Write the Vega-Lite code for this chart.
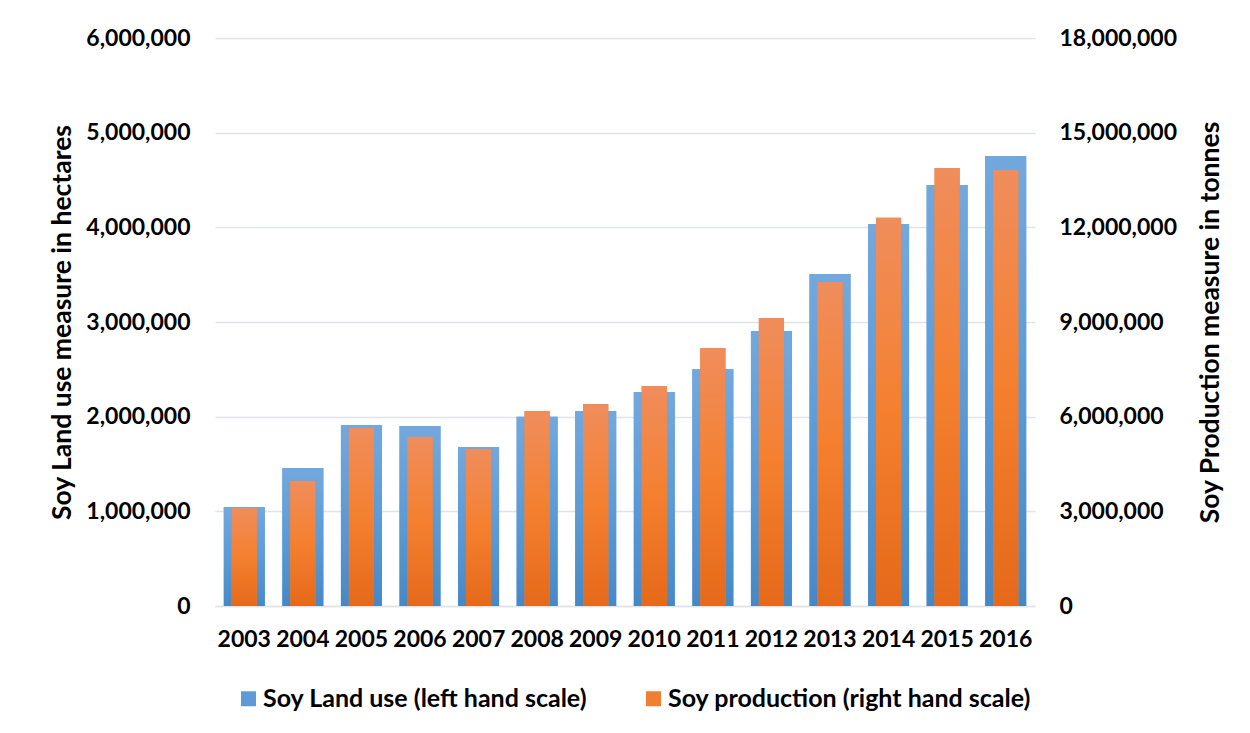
{
  "$schema": "https://vega.github.io/schema/vega-lite/v6.json",
  "width": 820,
  "height": 568,
  "autosize": "none",
  "padding": {"left": 215, "top": 38, "right": 215, "bottom": 127},
  "background": "white",
  "config": {
    "font": "Lato",
    "view": {"stroke": null},
    "axis": {
      "labelFont": "Lato",
      "labelFontWeight": "bold",
      "labelColor": "#000000",
      "titleFont": "Lato",
      "titleFontWeight": "bold",
      "titleColor": "#000000",
      "ticks": false,
      "gridColor": "#e0e3e8",
      "gridWidth": 1.5
    },
    "legend": {
      "labelFont": "Lato",
      "labelFontWeight": "bold",
      "labelColor": "#000000"
    }
  },
  "data": {
    "values": [
      {"year": "2003", "land": 1045000, "production": 3105000},
      {"year": "2004", "land": 1458000, "production": 3960000},
      {"year": "2005", "land": 1912000, "production": 5640000},
      {"year": "2006", "land": 1901000, "production": 5355000},
      {"year": "2007", "land": 1680000, "production": 4975000},
      {"year": "2008", "land": 2000000, "production": 6180000},
      {"year": "2009", "land": 2060000, "production": 6400000},
      {"year": "2010", "land": 2260000, "production": 6970000},
      {"year": "2011", "land": 2500000, "production": 8180000},
      {"year": "2012", "land": 2905000, "production": 9130000},
      {"year": "2013", "land": 3507000, "production": 10270000},
      {"year": "2014", "land": 4035000, "production": 12300000},
      {"year": "2015", "land": 4447000, "production": 13880000},
      {"year": "2016", "land": 4753000, "production": 13820000}
    ]
  },
  "encoding": {
    "x": {
      "field": "year",
      "type": "ordinal",
      "scale": {"paddingInner": 0, "paddingOuter": 0},
      "axis": {
        "title": null,
        "labelAngle": 0,
        "labelFontSize": 23,
        "labelPadding": 22,
        "domain": true,
        "domainColor": "#e0e3e8",
        "domainWidth": 1.5,
        "grid": false
      }
    }
  },
  "layer": [
    {
      "encoding": {
        "y": {
          "field": "land",
          "type": "quantitative",
          "scale": {"domain": [0, 6000000], "nice": false},
          "axis": {
            "orient": "left",
            "title": "Soy Land use measure in hectares",
            "titleFontSize": 26.5,
            "titlePadding": 9,
            "values": [0, 1000000, 2000000, 3000000, 4000000, 5000000, 6000000],
            "format": ",d",
            "labelFontSize": 23,
            "labelPadding": 25,
            "domain": false,
            "grid": true
          }
        }
      },
      "layer": [
        {
          "mark": {"type": "bar", "width": {"band": 0.7}},
          "encoding": {
            "color": {
              "datum": "Soy Land use (left hand scale)",
              "type": "nominal",
              "scale": {
                "domain": ["Soy Land use (left hand scale)", "Soy production (right hand scale)"],
                "range": ["#5c9bd8", "#f07f33"]
              },
              "legend": {
                "title": null,
                "orient": "none",
                "direction": "horizontal",
                "legendX": 21,
                "legendY": 648,
                "symbolType": "square",
                "symbolSize": 225,
                "symbolStrokeWidth": 0,
                "labelFontSize": 25,
                "labelLimit": 450,
                "labelOffset": 2,
                "columnPadding": 53
              }
            }
          }
        },
        {
          "mark": {
            "type": "bar",
            "width": {"band": 0.7},
            "color": {"gradient": "linear", "x1": 0, "y1": 0, "x2": 0, "y2": 1,
              "stops": [{"offset": 0, "color": "#73a8dd"}, {"offset": 0.5, "color": "#5c9bd8"}, {"offset": 1, "color": "#4688c6"}]}
          },
          "encoding": {}
        }
      ]
    },
    {
      "encoding": {
        "y": {
          "field": "production",
          "type": "quantitative",
          "scale": {"domain": [0, 18000000], "nice": false},
          "axis": {
            "orient": "right",
            "title": "Soy Production measure in tonnes",
            "titleFontSize": 26.5,
            "titleAngle": 270,
            "titleBaseline": "bottom",
            "titlePadding": 48,
            "values": [0, 3000000, 6000000, 9000000, 12000000, 15000000, 18000000],
            "format": ",d",
            "labelFontSize": 23,
            "labelPadding": 24,
            "domain": false,
            "grid": false
          }
        }
      },
      "layer": [
        {
          "mark": {"type": "bar", "width": {"band": 0.43}},
          "encoding": {
            "color": {"datum": "Soy production (right hand scale)", "type": "nominal"}
          }
        },
        {
          "mark": {
            "type": "bar",
            "width": {"band": 0.43},
            "color": {"gradient": "linear", "x1": 0, "y1": 0, "x2": 0, "y2": 1,
              "stops": [{"offset": 0, "color": "#f08d5c"}, {"offset": 0.5, "color": "#f4802f"}, {"offset": 1, "color": "#e5691a"}]}
          },
          "encoding": {}
        }
      ]
    }
  ],
  "resolve": {"scale": {"y": "independent"}}
}
